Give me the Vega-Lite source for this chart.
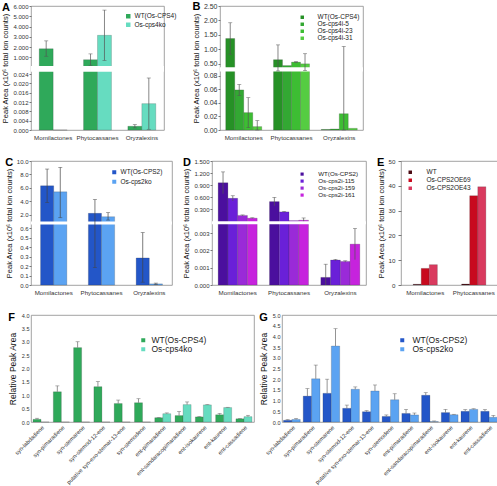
{
"$schema":"https://vega.github.io/schema/vega-lite/v6.json",
"padding":{"left":1,"top":0,"right":0,"bottom":0},
"spacing":15,
"config":{
 "font":"Liberation Sans",
 "view":{"stroke":"#8c8c8c","strokeWidth":0.8},
 "axis":{"domain":false,"grid":false,"labelOverlap":false,"labelColor":"#333","titleColor":"#111","titleFontWeight":"normal","tickColor":"#777","tickSize":2,"labelPadding":1,"labelFontSize":6.2,"titleFontSize":7.5,"titlePadding":3},
 "legend":{"orient":"none","symbolType":"square","labelColor":"#222","symbolStrokeWidth":0},
 "title":{"fontSize":11,"fontWeight":"bold","anchor":"start","frame":"bounds","offset":-10,"color":"#000"}
},
"resolve":{"scale":{"x":"independent","y":"independent","color":"independent","xOffset":"independent"},"legend":{"color":"independent"}},
"vconcat":[
{"hconcat":[
{"width":133,"height":124,"title":{"text":"A"},
"data":{"values":[
{"cat":"Momilactones","series":"WT(Os-CPS4)","v":1.83,"lo":1.1,"hi":2.6},
{"cat":"Momilactones","series":"Os-cps4ko","v":0,"lo":null,"hi":null},
{"cat":"Phytocassanes","series":"WT(Os-CPS4)","v":0.77,"lo":0.22,"hi":1.33},
{"cat":"Phytocassanes","series":"Os-cps4ko","v":3.14,"lo":0.7,"hi":5.6},
{"cat":"Oryzalexins","series":"WT(Os-CPS4)","v":0.0016,"lo":0.0009,"hi":0.0023},
{"cat":"Oryzalexins","series":"Os-cps4ko","v":0.0113,"lo":0.0003,"hi":0.0223}]},
"layer":[
{"mark":{"type":"bar","stroke":"#333","strokeWidth":0.4,"strokeOpacity":0.5},
"encoding":{
"x":{"field":"cat","type":"nominal","sort":null,"scale":{"domain":["Momilactones","Phytocassanes","Oryzalexins"],"paddingInner":0.37,"paddingOuter":0.185},"axis":{"title":null,"labelAngle":0,"ticks":false,"labelPadding":4}},
"xOffset":{"field":"series","type":"nominal","sort":null,"scale":{"domain":["WT(Os-CPS4)","Os-cps4ko"],"paddingInner":0,"paddingOuter":0}},
"y":{"field":"v","type":"quantitative","scale":{"domain":[0,0.025,0.15,6],"range":[124,65.7,60,0],"nice":false,"zero":false},"axis":{"title":"Peak Area (x10⁶ total ion counts)","values":[0,0.004,0.008,0.012,0.016,0.02,0.024,1,2,3,4,5,6],"tickCount":40,"format":".3f","labelFontSize":6}},
"color":{"field":"series","type":"nominal","scale":{"domain":["WT(Os-CPS4)","Os-cps4ko"],"range":["#2fa95a","#66dcc0"]},"legend":{"title":null,"legendX":94,"legendY":7,"symbolSize":20,"labelFontSize":6.5,"rowPadding":1.5,"labelOffset":3}}}},
{"data":{"values":[{}]},"mark":{"type":"rect","color":"white"},"encoding":{"y":{"datum":0.026},"y2":{"datum":0.15}}},
{"mark":{"type":"rule","color":"#555","strokeWidth":0.7},"encoding":{"x":{"field":"cat","type":"nominal","sort":null},"xOffset":{"field":"series","type":"nominal","sort":null},"y":{"field":"lo","type":"quantitative"},"y2":{"field":"hi"}}},
{"mark":{"type":"tick","color":"#555","size":4,"thickness":0.7},"encoding":{"x":{"field":"cat","type":"nominal","sort":null},"xOffset":{"field":"series","type":"nominal","sort":null},"y":{"field":"hi","type":"quantitative"}}},
{"mark":{"type":"tick","color":"#555","size":4,"thickness":0.7},"encoding":{"x":{"field":"cat","type":"nominal","sort":null},"xOffset":{"field":"series","type":"nominal","sort":null},"y":{"field":"lo","type":"quantitative"}}}
]},
{"width":143,"height":124,"title":{"text":"B"},
"data":{"values":[
{"cat":"Momilactones","series":"WT(Os-CPS4)","v":1.375,"lo":0.83,"hi":1.92},
{"cat":"Momilactones","series":"Os-cps4i-5","v":0.059,"lo":0.051,"hi":0.067},
{"cat":"Momilactones","series":"Os-cps4i-23","v":0.0256,"lo":0.0035,"hi":0.0476},
{"cat":"Momilactones","series":"Os-cps4i-31","v":0.005,"lo":0,"hi":0.0138},
{"cat":"Phytocassanes","series":"WT(Os-CPS4)","v":0.643,"lo":0.13,"hi":1.155},
{"cat":"Phytocassanes","series":"Os-cps4i-5","v":0.44,"lo":null,"hi":null},
{"cat":"Phytocassanes","series":"Os-cps4i-23","v":0.56,"lo":0.55,"hi":0.575},
{"cat":"Phytocassanes","series":"Os-cps4i-31","v":0.5,"lo":0.15,"hi":0.85},
{"cat":"Oryzalexins","series":"WT(Os-CPS4)","v":0.0008,"lo":null,"hi":null},
{"cat":"Oryzalexins","series":"Os-cps4i-5","v":0.0015,"lo":null,"hi":null},
{"cat":"Oryzalexins","series":"Os-cps4i-23","v":0.024,"lo":0,"hi":1.1},
{"cat":"Oryzalexins","series":"Os-cps4i-31","v":0.0025,"lo":null,"hi":null}]},
"layer":[
{"mark":{"type":"bar","stroke":"#333","strokeWidth":0.4,"strokeOpacity":0.5},
"encoding":{
"x":{"field":"cat","type":"nominal","sort":null,"scale":{"domain":["Momilactones","Phytocassanes","Oryzalexins"],"paddingInner":0.245,"paddingOuter":0.12},"axis":{"title":null,"labelAngle":0,"ticks":false,"labelPadding":4}},
"xOffset":{"field":"series","type":"nominal","sort":null,"scale":{"domain":["WT(Os-CPS4)","Os-cps4i-5","Os-cps4i-23","Os-cps4i-31"],"paddingInner":0,"paddingOuter":0}},
"y":{"field":"v","type":"quantitative","scale":{"domain":[0,0.086,0.38,2.5],"range":[124,65.6,61.3,0],"nice":false,"zero":false},"axis":{"title":"Peak Area (x10⁶ total ion counts)","values":[0,0.02,0.04,0.06,0.08,0.5,1,1.5,2,2.5],"tickCount":40,"format":".2f","labelFontSize":7}},
"color":{"field":"series","type":"nominal","scale":{"domain":["WT(Os-CPS4)","Os-cps4i-5","Os-cps4i-23","Os-cps4i-31"],"range":["#269126","#33a833","#3dbd33","#55cc42"]},"legend":{"title":null,"legendX":79,"legendY":8,"symbolSize":12,"labelFontSize":6.5,"rowPadding":0,"labelOffset":12}}}},
{"data":{"values":[{}]},"mark":{"type":"rect","color":"white"},"encoding":{"y":{"datum":0.087},"y2":{"datum":0.38}}},
{"mark":{"type":"rule","color":"#555","strokeWidth":0.7},"encoding":{"x":{"field":"cat","type":"nominal","sort":null},"xOffset":{"field":"series","type":"nominal","sort":null},"y":{"field":"lo","type":"quantitative"},"y2":{"field":"hi"}}},
{"mark":{"type":"tick","color":"#555","size":4,"thickness":0.7},"encoding":{"x":{"field":"cat","type":"nominal","sort":null},"xOffset":{"field":"series","type":"nominal","sort":null},"y":{"field":"hi","type":"quantitative"}}},
{"mark":{"type":"tick","color":"#555","size":4,"thickness":0.7},"encoding":{"x":{"field":"cat","type":"nominal","sort":null},"xOffset":{"field":"series","type":"nominal","sort":null},"y":{"field":"lo","type":"quantitative"}}}
]}
],"spacing":13,"resolve":{"scale":{"x":"independent","y":"independent","color":"independent","xOffset":"independent"},"legend":{"color":"independent"}}},
{"hconcat":[
{"width":141,"height":124,"title":{"text":"C"},
"data":{"values":[
{"cat":"Momilactones","series":"WT(Os-CPS2)","v":6.3,"lo":3.8,"hi":8.8},
{"cat":"Momilactones","series":"Os-cps2ko","v":5.4,"lo":1.55,"hi":9.05},
{"cat":"Phytocassanes","series":"WT(Os-CPS2)","v":2.2,"lo":0.185,"hi":4.25},
{"cat":"Phytocassanes","series":"Os-cps2ko","v":1.7,"lo":1.2,"hi":2.3},
{"cat":"Oryzalexins","series":"WT(Os-CPS2)","v":0.286,"lo":0.03,"hi":0.554},
{"cat":"Oryzalexins","series":"Os-cps2ko","v":0.012,"lo":0.005,"hi":0.02}]},
"layer":[
{"mark":{"type":"bar","stroke":"#333","strokeWidth":0.4,"strokeOpacity":0.5},
"encoding":{
"x":{"field":"cat","type":"nominal","sort":null,"scale":{"domain":["Momilactones","Phytocassanes","Oryzalexins"],"paddingInner":0.45,"paddingOuter":0.2},"axis":{"title":null,"labelAngle":0,"ticks":false,"labelPadding":4}},
"xOffset":{"field":"series","type":"nominal","sort":null,"scale":{"domain":["WT(Os-CPS2)","Os-cps2ko"],"paddingInner":0,"paddingOuter":0}},
"y":{"field":"v","type":"quantitative","scale":{"domain":[0,0.64,1,10],"range":[124,63.5,60.4,0],"nice":false,"zero":false},"axis":{"title":"Peak Area (x10⁶ total ion counts)","values":[0,0.1,0.2,0.3,0.4,0.5,0.6,2,4,6,8,10],"tickCount":40,"format":".1f","labelFontSize":6}},
"color":{"field":"series","type":"nominal","scale":{"domain":["WT(Os-CPS2)","Os-cps2ko"],"range":["#2356c8","#5ba3f2"]},"legend":{"title":null,"legendX":80,"legendY":8,"symbolSize":16,"labelFontSize":6.5,"rowPadding":2.5,"labelOffset":3}}}},
{"data":{"values":[{}]},"mark":{"type":"rect","color":"white"},"encoding":{"y":{"datum":0.645},"y2":{"datum":1}}},
{"mark":{"type":"rule","color":"#444","strokeWidth":0.7},"encoding":{"x":{"field":"cat","type":"nominal","sort":null},"xOffset":{"field":"series","type":"nominal","sort":null},"y":{"field":"lo","type":"quantitative"},"y2":{"field":"hi"}}},
{"mark":{"type":"tick","color":"#444","size":4,"thickness":0.7},"encoding":{"x":{"field":"cat","type":"nominal","sort":null},"xOffset":{"field":"series","type":"nominal","sort":null},"y":{"field":"hi","type":"quantitative"}}},
{"mark":{"type":"tick","color":"#444","size":4,"thickness":0.7},"encoding":{"x":{"field":"cat","type":"nominal","sort":null},"xOffset":{"field":"series","type":"nominal","sort":null},"y":{"field":"lo","type":"quantitative"}}}
]},
{"width":154,"height":124,"title":{"text":"D"},
"data":{"values":[
{"cat":"Momilactones","series":"WT(Os-CPS2)","v":0.96,"lo":0.69,"hi":1.23},
{"cat":"Momilactones","series":"Os-cps2i-115","v":0.575,"lo":0.51,"hi":0.64},
{"cat":"Momilactones","series":"Os-cps2i-159","v":0.154,"lo":0.145,"hi":0.165},
{"cat":"Momilactones","series":"Os-cps2i-161","v":0.085,"lo":0.075,"hi":0.095},
{"cat":"Phytocassanes","series":"WT(Os-CPS2)","v":0.495,"lo":0.39,"hi":0.6},
{"cat":"Phytocassanes","series":"Os-cps2i-115","v":0.24,"lo":0.23,"hi":0.25},
{"cat":"Phytocassanes","series":"Os-cps2i-159","v":0.025,"lo":null,"hi":null},
{"cat":"Phytocassanes","series":"Os-cps2i-161","v":0.035,"lo":0.012,"hi":0.09},
{"cat":"Oryzalexins","series":"WT(Os-CPS2)","v":0.00044,"lo":0,"hi":0.0012},
{"cat":"Oryzalexins","series":"Os-cps2i-115","v":0.00144,"lo":0.0014,"hi":0.00148},
{"cat":"Oryzalexins","series":"Os-cps2i-159","v":0.00136,"lo":0.00132,"hi":0.0014},
{"cat":"Oryzalexins","series":"Os-cps2i-161","v":0.00236,"lo":0.00146,"hi":0.00326}]},
"layer":[
{"mark":{"type":"bar","stroke":"#333","strokeWidth":0.4,"strokeOpacity":0.5},
"encoding":{
"x":{"field":"cat","type":"nominal","sort":null,"scale":{"domain":["Momilactones","Phytocassanes","Oryzalexins"],"paddingInner":0.24,"paddingOuter":0.12},"axis":{"title":null,"labelAngle":0,"ticks":false,"labelPadding":4}},
"xOffset":{"field":"series","type":"nominal","sort":null,"scale":{"domain":["WT(Os-CPS2)","Os-cps2i-115","Os-cps2i-159","Os-cps2i-161"],"paddingInner":0,"paddingOuter":0}},
"y":{"field":"v","type":"quantitative","scale":{"domain":[0,0.0035,0.01,1.5],"range":[124,63.4,60.2,0],"nice":false,"zero":false},"axis":{"title":"Peak Area (x10⁶ total ion counts)","values":[0,0.001,0.002,0.003,0.3,0.6,0.9,1.2,1.5],"tickCount":40,"format":".3f","labelFontSize":6}},
"color":{"field":"series","type":"nominal","scale":{"domain":["WT(Os-CPS2)","Os-cps2i-115","Os-cps2i-159","Os-cps2i-161"],"range":["#4b0f9e","#6a20d8","#9a2ad8","#c623dd"]},"legend":{"title":null,"legendX":87,"legendY":10,"symbolSize":10,"labelFontSize":6.2,"rowPadding":-1.2,"labelOffset":13}}}},
{"data":{"values":[{}]},"mark":{"type":"rect","color":"white"},"encoding":{"y":{"datum":0.0036},"y2":{"datum":0.01}}},
{"mark":{"type":"rule","color":"#555","strokeWidth":0.7},"encoding":{"x":{"field":"cat","type":"nominal","sort":null},"xOffset":{"field":"series","type":"nominal","sort":null},"y":{"field":"lo","type":"quantitative"},"y2":{"field":"hi"}}},
{"mark":{"type":"tick","color":"#555","size":4,"thickness":0.7},"encoding":{"x":{"field":"cat","type":"nominal","sort":null},"xOffset":{"field":"series","type":"nominal","sort":null},"y":{"field":"hi","type":"quantitative"}}}
]},
{"width":97,"height":124,"title":{"text":"E"},
"data":{"values":[
{"cat":"Momilactones","series":"WT","v":0.3},
{"cat":"Momilactones","series":"Os-CPS2OE69","v":6.7},
{"cat":"Momilactones","series":"Os-CPS2OE43","v":8.2},
{"cat":"Phytocassanes","series":"WT","v":0.4},
{"cat":"Phytocassanes","series":"Os-CPS2OE69","v":36.0},
{"cat":"Phytocassanes","series":"Os-CPS2OE43","v":39.6}]},
"mark":{"type":"bar","stroke":"#333","strokeWidth":0.4,"strokeOpacity":0.5},
"encoding":{
"x":{"field":"cat","type":"nominal","sort":null,"scale":{"domain":["Momilactones","Phytocassanes"],"paddingInner":0.5,"paddingOuter":0.25},"axis":{"title":null,"labelAngle":0,"ticks":false,"labelPadding":4}},
"xOffset":{"field":"series","type":"nominal","sort":null,"scale":{"domain":["WT","Os-CPS2OE69","Os-CPS2OE43"],"paddingInner":0,"paddingOuter":0}},
"y":{"field":"v","type":"quantitative","scale":{"domain":[0,50],"nice":false},"axis":{"title":"Peak Area (x10⁶ total ion counts)","values":[0,10,20,30,40,50],"tickCount":40,"format":"d","tickSize":3,"labelPadding":3}},
"color":{"field":"series","type":"nominal","scale":{"domain":["WT","Os-CPS2OE69","Os-CPS2OE43"],"range":["#4a0a12","#c80a1e","#d93a5e"]},"legend":{"title":null,"legendX":6,"legendY":8,"symbolSize":12,"labelFontSize":6.5,"rowPadding":1,"labelOffset":13}}}}
],"spacing":9,"resolve":{"scale":{"x":"independent","y":"independent","color":"independent","xOffset":"independent"},"legend":{"color":"independent"}}},
{"hconcat":[
{"width":223,"height":107,"title":{"text":"F"},
"data":{"values":[
{"cat":"syn-labdadiene","series":"WT(Os-CPS4)","v":0.1,"hi":0.14},
{"cat":"syn-labdadiene","series":"Os-cps4ko","v":0,"hi":null},
{"cat":"syn-pimaradiene","series":"WT(Os-CPS4)","v":1.13,"hi":1.35},
{"cat":"syn-pimaradiene","series":"Os-cps4ko","v":0,"hi":null},
{"cat":"syn-stemarene","series":"WT(Os-CPS4)","v":2.78,"hi":3.0},
{"cat":"syn-stemarene","series":"Os-cps4ko","v":0,"hi":null},
{"cat":"syn-stemod-12-ene","series":"WT(Os-CPS4)","v":1.32,"hi":1.51},
{"cat":"syn-stemod-12-ene","series":"Os-cps4ko","v":0,"hi":null},
{"cat":"putative syn-exo-stemar-13-ene","series":"WT(Os-CPS4)","v":0.69,"hi":0.82},
{"cat":"putative syn-exo-stemar-13-ene","series":"Os-cps4ko","v":0,"hi":null},
{"cat":"syn-stemodene","series":"WT(Os-CPS4)","v":0.72,"hi":0.87},
{"cat":"syn-stemodene","series":"Os-cps4ko","v":0,"hi":null},
{"cat":"ent-pimaradiene","series":"WT(Os-CPS4)","v":0.16,"hi":0.17},
{"cat":"ent-pimaradiene","series":"Os-cps4ko","v":0.31,"hi":0.34},
{"cat":"ent-sandaracopimaradiene","series":"WT(Os-CPS4)","v":0.24,"hi":0.39},
{"cat":"ent-sandaracopimaradiene","series":"Os-cps4ko","v":0.65,"hi":0.75},
{"cat":"ent-isokaurene","series":"WT(Os-CPS4)","v":0.19,"hi":0.2},
{"cat":"ent-isokaurene","series":"Os-cps4ko","v":0.64,"hi":0.65},
{"cat":"ent-kaurene","series":"WT(Os-CPS4)","v":0.27,"hi":0.32},
{"cat":"ent-kaurene","series":"Os-cps4ko","v":0.54,"hi":0.55},
{"cat":"ent-cassadiene","series":"WT(Os-CPS4)","v":0.12,"hi":0.13},
{"cat":"ent-cassadiene","series":"Os-cps4ko","v":0.2,"hi":0.25}]},
"layer":[
{"mark":{"type":"bar","stroke":"#333","strokeWidth":0.4,"strokeOpacity":0.5},
"encoding":{
"x":{"field":"cat","type":"nominal","sort":null,"scale":{"paddingInner":0.21,"paddingOuter":0.1},"axis":{"title":null,"labelAngle":-45,"labelAlign":"right","labelBaseline":"top","ticks":false,"labelPadding":2,"labelFontSize":5.7,"labelLimit":200}},
"xOffset":{"field":"series","type":"nominal","sort":null,"scale":{"domain":["WT(Os-CPS4)","Os-cps4ko"],"paddingInner":0,"paddingOuter":0}},
"y":{"field":"v","type":"quantitative","scale":{"domain":[0,4],"nice":false},"axis":{"title":"Relative Peak Area","titleFontSize":8.5,"titlePadding":4,"values":[0,0.5,1,1.5,2,2.5,3,3.5,4],"tickCount":40,"format":".1f","labelFontSize":5.5,"ticks":false,"labelPadding":2}},
"color":{"field":"series","type":"nominal","scale":{"domain":["WT(Os-CPS4)","Os-cps4ko"],"range":["#2fa95a","#66dcc0"]},"legend":{"title":null,"legendX":108,"legendY":21,"symbolSize":16,"labelFontSize":8.5,"rowPadding":-1,"labelOffset":4}}}},
{"mark":{"type":"rule","color":"#666","strokeWidth":0.7},"encoding":{"x":{"field":"cat","type":"nominal","sort":null},"xOffset":{"field":"series","type":"nominal","sort":null},"y":{"field":"v","type":"quantitative"},"y2":{"field":"hi"}}},
{"mark":{"type":"tick","color":"#666","size":4,"thickness":0.7},"encoding":{"x":{"field":"cat","type":"nominal","sort":null},"xOffset":{"field":"series","type":"nominal","sort":null},"y":{"field":"hi","type":"quantitative"}}}
]},
{"width":217,"height":107,"title":{"text":"G"},
"data":{"values":[
{"cat":"syn-labdadiene","series":"WT(Os-CPS2)","v":0.08,"hi":0.11},
{"cat":"syn-labdadiene","series":"Os-cps2ko","v":0.12,"hi":0.16},
{"cat":"syn-pimaradiene","series":"WT(Os-CPS2)","v":1.21,"hi":1.56},
{"cat":"syn-pimaradiene","series":"Os-cps2ko","v":2.02,"hi":2.66},
{"cat":"syn-stemarene","series":"WT(Os-CPS2)","v":1.34,"hi":2.0},
{"cat":"syn-stemarene","series":"Os-cps2ko","v":3.55,"hi":4.36},
{"cat":"syn-stemod-12-ene","series":"WT(Os-CPS2)","v":0.64,"hi":0.79},
{"cat":"syn-stemod-12-ene","series":"Os-cps2ko","v":1.53,"hi":1.64},
{"cat":"putative syn-exo-stemar-13-ene","series":"WT(Os-CPS2)","v":0.48,"hi":0.53},
{"cat":"putative syn-exo-stemar-13-ene","series":"Os-cps2ko","v":1.45,"hi":1.73},
{"cat":"syn-stemodene","series":"WT(Os-CPS2)","v":0.26,"hi":0.33},
{"cat":"syn-stemodene","series":"Os-cps2ko","v":1.04,"hi":1.32},
{"cat":"ent-pimaradiene","series":"WT(Os-CPS2)","v":0.4,"hi":0.59},
{"cat":"ent-pimaradiene","series":"Os-cps2ko","v":0.33,"hi":0.42},
{"cat":"ent-sandaracopimaradiene","series":"WT(Os-CPS2)","v":1.25,"hi":1.37},
{"cat":"ent-sandaracopimaradiene","series":"Os-cps2ko","v":0.02,"hi":0.05},
{"cat":"ent-isokaurene","series":"WT(Os-CPS2)","v":0.44,"hi":0.59},
{"cat":"ent-isokaurene","series":"Os-cps2ko","v":0.34,"hi":0.36},
{"cat":"ent-kaurene","series":"WT(Os-CPS2)","v":0.5,"hi":0.58},
{"cat":"ent-kaurene","series":"Os-cps2ko","v":0.59,"hi":0.62},
{"cat":"ent-cassadiene","series":"WT(Os-CPS2)","v":0.5,"hi":0.58},
{"cat":"ent-cassadiene","series":"Os-cps2ko","v":0.22,"hi":0.31}]},
"layer":[
{"mark":{"type":"bar","stroke":"#333","strokeWidth":0.4,"strokeOpacity":0.5},
"encoding":{
"x":{"field":"cat","type":"nominal","sort":null,"scale":{"paddingInner":0.15,"paddingOuter":0.075},"axis":{"title":null,"labelAngle":-45,"labelAlign":"right","labelBaseline":"top","ticks":false,"labelPadding":2,"labelFontSize":5.7,"labelLimit":200}},
"xOffset":{"field":"series","type":"nominal","sort":null,"scale":{"domain":["WT(Os-CPS2)","Os-cps2ko"],"paddingInner":0,"paddingOuter":0}},
"y":{"field":"v","type":"quantitative","scale":{"domain":[0,5],"nice":false},"axis":{"title":"Relative Peak Area","titleFontSize":8.5,"titlePadding":4,"values":[0,0.5,1,1.5,2,2.5,3,3.5,4,4.5,5],"tickCount":40,"format":".1f","labelFontSize":5.5,"ticks":false,"labelPadding":2}},
"color":{"field":"series","type":"nominal","scale":{"domain":["WT(Os-CPS2)","Os-cps2ko"],"range":["#2356c8","#5ba3f2"]},"legend":{"title":null,"legendX":116,"legendY":21,"symbolSize":16,"labelFontSize":8.5,"rowPadding":-1,"labelOffset":6}}}},
{"mark":{"type":"rule","color":"#666","strokeWidth":0.7},"encoding":{"x":{"field":"cat","type":"nominal","sort":null},"xOffset":{"field":"series","type":"nominal","sort":null},"y":{"field":"v","type":"quantitative"},"y2":{"field":"hi"}}},
{"mark":{"type":"tick","color":"#666","size":4,"thickness":0.7},"encoding":{"x":{"field":"cat","type":"nominal","sort":null},"xOffset":{"field":"series","type":"nominal","sort":null},"y":{"field":"hi","type":"quantitative"}}}
]}
],"spacing":3,"resolve":{"scale":{"x":"independent","y":"independent","color":"independent","xOffset":"independent"},"legend":{"color":"independent"}}}
]
}
